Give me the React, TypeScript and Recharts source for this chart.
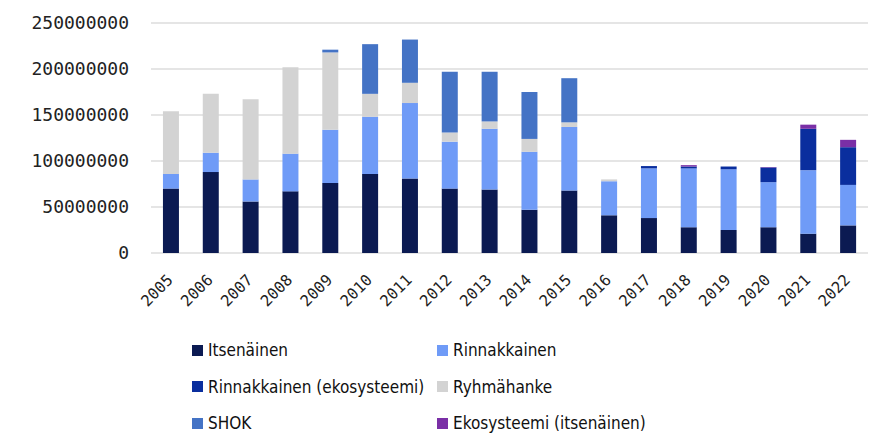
import React from 'react';
import { BarChart, Bar, XAxis, YAxis, CartesianGrid } from 'recharts';

// Values (euros)
const years = ['2005', '2006', '2007', '2008', '2009', '2010', '2011', '2012', '2013', '2014', '2015', '2016', '2017', '2018', '2019', '2020', '2021', '2022'];
const itsenainen = [70000000, 88000000, 56000000, 67000000, 76000000, 86000000, 81000000, 70000000, 69000000, 47000000, 68000000, 41000000, 38000000, 28000000, 25000000, 28000000, 21000000, 30000000];
const rinnakkainen = [16000000, 21000000, 24000000, 41000000, 58000000, 62000000, 82000000, 51000000, 66000000, 63000000, 69000000, 37000000, 54000000, 64000000, 66000000, 49000000, 69000000, 44000000];
const rinnakkainenEko = [0, 0, 0, 0, 0, 0, 0, 0, 0, 0, 0, 0, 2500000, 2000000, 3000000, 16000000, 45000000, 41000000];
const ryhmahanke = [68000000, 64000000, 87000000, 94000000, 84000000, 25000000, 22000000, 10000000, 8000000, 14000000, 5000000, 2000000, 0, 0, 0, 0, 0, 0];
const shok = [0, 0, 0, 0, 3000000, 54000000, 47000000, 66000000, 54000000, 51000000, 48000000, 0, 0, 0, 0, 0, 0, 0];
const ekosysteemi = [0, 0, 0, 0, 0, 0, 0, 0, 0, 0, 0, 0, 0, 1500000, 0, 500000, 4500000, 8000000];
const yTicks = [0, 50000000, 100000000, 150000000, 200000000, 250000000];

const series = [
  { key: 'its', name: 'Itsenäinen', color: '#0b1a52' },
  { key: 'rinn', name: 'Rinnakkainen', color: '#6f9bf7' },
  { key: 'rinnEko', name: 'Rinnakkainen (ekosysteemi)', color: '#0a2e9e' },
  { key: 'ryhma', name: 'Ryhmähanke', color: '#d3d3d3' },
  { key: 'shok', name: 'SHOK', color: '#4473c5' },
  { key: 'eko', name: 'Ekosysteemi (itsenäinen)', color: '#7a2fa6' },
];

const data = years.map((year, i) => ({
  year,
  its: itsenainen[i],
  rinn: rinnakkainen[i],
  rinnEko: rinnakkainenEko[i],
  ryhma: ryhmahanke[i],
  shok: shok[i],
  eko: ekosysteemi[i],
}));

const AXIS_FONT = '"DejaVu Sans Mono", monospace';
const LEGEND_FONT = '"DejaVu Sans Condensed", "DejaVu Sans", sans-serif';

const XTick = (props: any) => {
  const { x, y, payload } = props;
  return (
    <g transform={`translate(${x + 3},${y + 20})`}>
      <text textAnchor="end" transform="rotate(-45)" fontFamily={AXIS_FONT} fontSize={15.5} fill="#222">
        {payload.value}
      </text>
    </g>
  );
};

const App: React.FC = () => {
  return (
    <div style={{ position: 'absolute', left: 0, top: 0, width: 870, height: 438, background: '#fff' }}>
      <BarChart
        width={870}
        height={438}
        data={data}
        margin={{ top: 23, right: 2, left: 0, bottom: 0 }}
        barCategoryGap="30%"
      >
        <CartesianGrid vertical={false} stroke="#dcdcdc" strokeWidth={1.5} />
        <XAxis
          dataKey="year"
          axisLine={false}
          tickLine={false}
          interval={0}
          height={185}
          tick={<XTick />}
        />
        <YAxis
          width={151}
          domain={[0, 250000000]}
          ticks={yTicks}
          interval={0}
          axisLine={false}
          tickLine={false}
          tick={{ fontFamily: AXIS_FONT, fontSize: 18, fill: '#222', dx: -14 }}
        />
        {series.map((s) => (
          <Bar key={s.key} dataKey={s.key} name={s.name} stackId="a" fill={s.color} isAnimationActive={false} />
        ))}
      </BarChart>

      {/* legend, two columns */}
      <div
        style={{
          position: 'absolute',
          left: 192,
          top: 332,
          display: 'grid',
          gridTemplateColumns: '245px 260px',
          fontFamily: LEGEND_FONT,
          fontSize: 17,
          color: '#111',
        }}
      >
        {series.map((s) => (
          <div key={s.key} style={{ display: 'flex', alignItems: 'center', height: 36.5 }}>
            <span style={{ display: 'inline-block', width: 11, height: 11, background: s.color, marginRight: 5 }} />
            <span>{s.name}</span>
          </div>
        ))}
      </div>
    </div>
  );
};

export default App;
